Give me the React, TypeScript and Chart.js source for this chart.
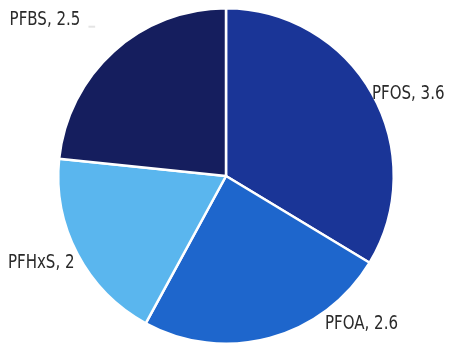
import React, { useEffect, useRef } from "react";
import { Chart, registerables } from "chart.js";

Chart.register(...registerables);

const categories = ["PFOS", "PFOA", "PFHxS", "PFBS"];
const values = [3.6, 2.6, 2, 2.5];
const colors = ["#1a3597", "#1e66cc", "#5ab6ee", "#151e5e"];
const valueLabels = ["3.6", "2.6", "2", "2.5"];

// label anchors relative to pie centre, in units of radius (left x, baseline y)
const labelAnchors: [number, number][] = [
  [0.87, -0.46],
  [0.59, 0.91],
  [-1.30, 0.55],
  [-1.29, -0.90],
];

const labelPlugin = {
  id: "sliceLabels",
  afterDatasetsDraw(chart: any) {
    const meta = chart.getDatasetMeta(0);
    const arc = meta.data[0];
    if (!arc) return;
    const { x, y, outerRadius } = arc.getProps(["x", "y", "outerRadius"], true);
    const ctx = chart.ctx;
    ctx.save();
    ctx.font = '19px "DejaVu Sans Condensed", "Liberation Sans Narrow", sans-serif';
    ctx.fillStyle = "#2a2a2a";
    ctx.textAlign = "left";
    ctx.textBaseline = "alphabetic";
    categories.forEach((c, i) => {
      const [fx, fy] = labelAnchors[i];
      ctx.save();
      ctx.translate(x + fx * outerRadius, y + fy * outerRadius);
      ctx.scale(0.88, 1);
      ctx.fillText(`${c}, ${valueLabels[i]}`, 0, 0);
      ctx.restore();
    });
    // faint leader for the PFBS label
    ctx.strokeStyle = "#e4e4e4";
    ctx.lineWidth = 2;
    ctx.beginPath();
    ctx.moveTo(x - 0.82 * outerRadius, y - 0.89 * outerRadius);
    ctx.lineTo(x - 0.78 * outerRadius, y - 0.89 * outerRadius);
    ctx.stroke();
    ctx.restore();
  },
};

export default function App() {
  const ref = useRef<HTMLCanvasElement | null>(null);
  useEffect(() => {
    if (!ref.current) return;
    const chart = new Chart(ref.current, {
      type: "pie",
      data: {
        labels: categories,
        datasets: [
          {
            data: values,
            backgroundColor: colors,
            borderColor: "#ffffff",
            borderWidth: 2.5,
          },
        ],
      },
      options: {
        animation: false,
        responsive: false,
        layout: { padding: { left: 57, right: 63, top: 6, bottom: 14 } },
        plugins: {
          legend: { display: false },
          tooltip: { enabled: false },
        },
      },
      plugins: [labelPlugin],
    });
    return () => chart.destroy();
  }, []);
  return (
    <div style={{ position: "absolute", left: 0, top: 0, width: 458, height: 360, background: "#fff" }}>
      <canvas ref={ref} width={458} height={360} style={{ width: 458, height: 360 }} />
    </div>
  );
}
